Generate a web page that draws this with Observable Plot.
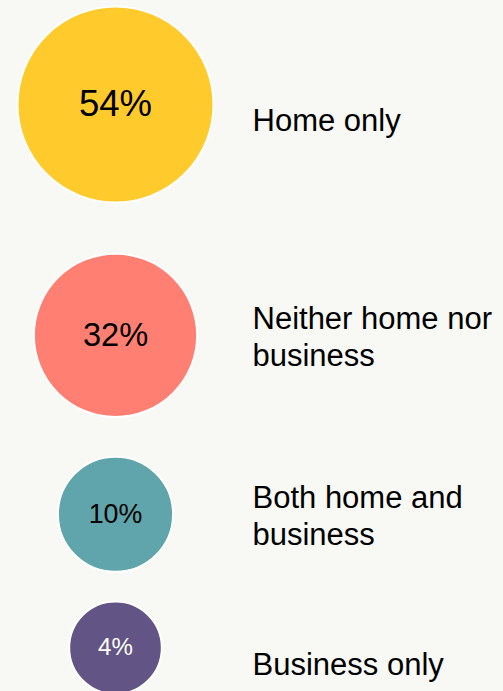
<!DOCTYPE html>
<html><head><meta charset="utf-8">
<script src="https://cdn.jsdelivr.net/npm/d3@7"></script>
<script src="https://cdn.jsdelivr.net/npm/@observablehq/plot@0.6"></script>
<style>
html,body{margin:0;padding:0;background:#f8f8f4;}
</style></head><body><div id="chart"></div>
<script>
const categories = ["Home only", "Neither home nor\nbusiness", "Both home and\nbusiness", "Business only"];
const shares = [54, 32, 10, 4];
const valueLabels = ["54%", "32%", "10%", "4%"];
const palette = ["#ffca2b", "#ff7f73", "#5fa5ab", "#625585"];

const W = 503, H = 691;
const CX = 115, LABEL_X = 252, TOP = 6, SPACING = 1.285;
const rOpts = {type: "sqrt", domain: [0, 54], range: [27, 98]};
const rScale = Plot.scale({r: rOpts});
const radii = shares.map(v => rScale.apply(v));
const centers = [];
radii.forEach((r, i) => centers.push(i === 0 ? TOP + r : centers[i - 1] + SPACING * (radii[i - 1] + r)));

const data = categories.map((c, i) => ({
  category: c,
  share: shares[i],
  label: valueLabels[i],
  color: palette[i],
  cy: centers[i],
  r: radii[i],
  lines: c.split("\n").length
}));

const chart = Plot.plot({
  width: W,
  height: H,
  margin: 0,
  x: {type: "identity", axis: null},
  y: {type: "identity", axis: null},
  r: rOpts,
  color: {type: "identity"},
  style: {background: "#f8f8f4", fontFamily: "'Liberation Sans', Arial, sans-serif"},
  marks: [
    Plot.dot(data, {x: CX, y: "cy", r: "share", fill: "color", fillOpacity: 1, stroke: "white", strokeWidth: 2}),
    Plot.text(data, {
      x: CX, y: "cy", text: "label",
      fontSize: d => 13 + 0.24 * d.r,
      fill: d => d3.hsl(d.color).l < 0.48 ? "white" : "black",
      textAnchor: "middle", lineAnchor: "middle"
    }),
    Plot.text(data, {
      x: LABEL_X, y: d => d.cy + (d.lines === 1 ? 15 : 0), text: "category",
      fontSize: 31, lineHeight: 1.2, fill: "black",
      textAnchor: "start", lineAnchor: "middle"
    })
  ]
});
document.getElementById("chart").appendChild(chart);
</script>
</body></html>
